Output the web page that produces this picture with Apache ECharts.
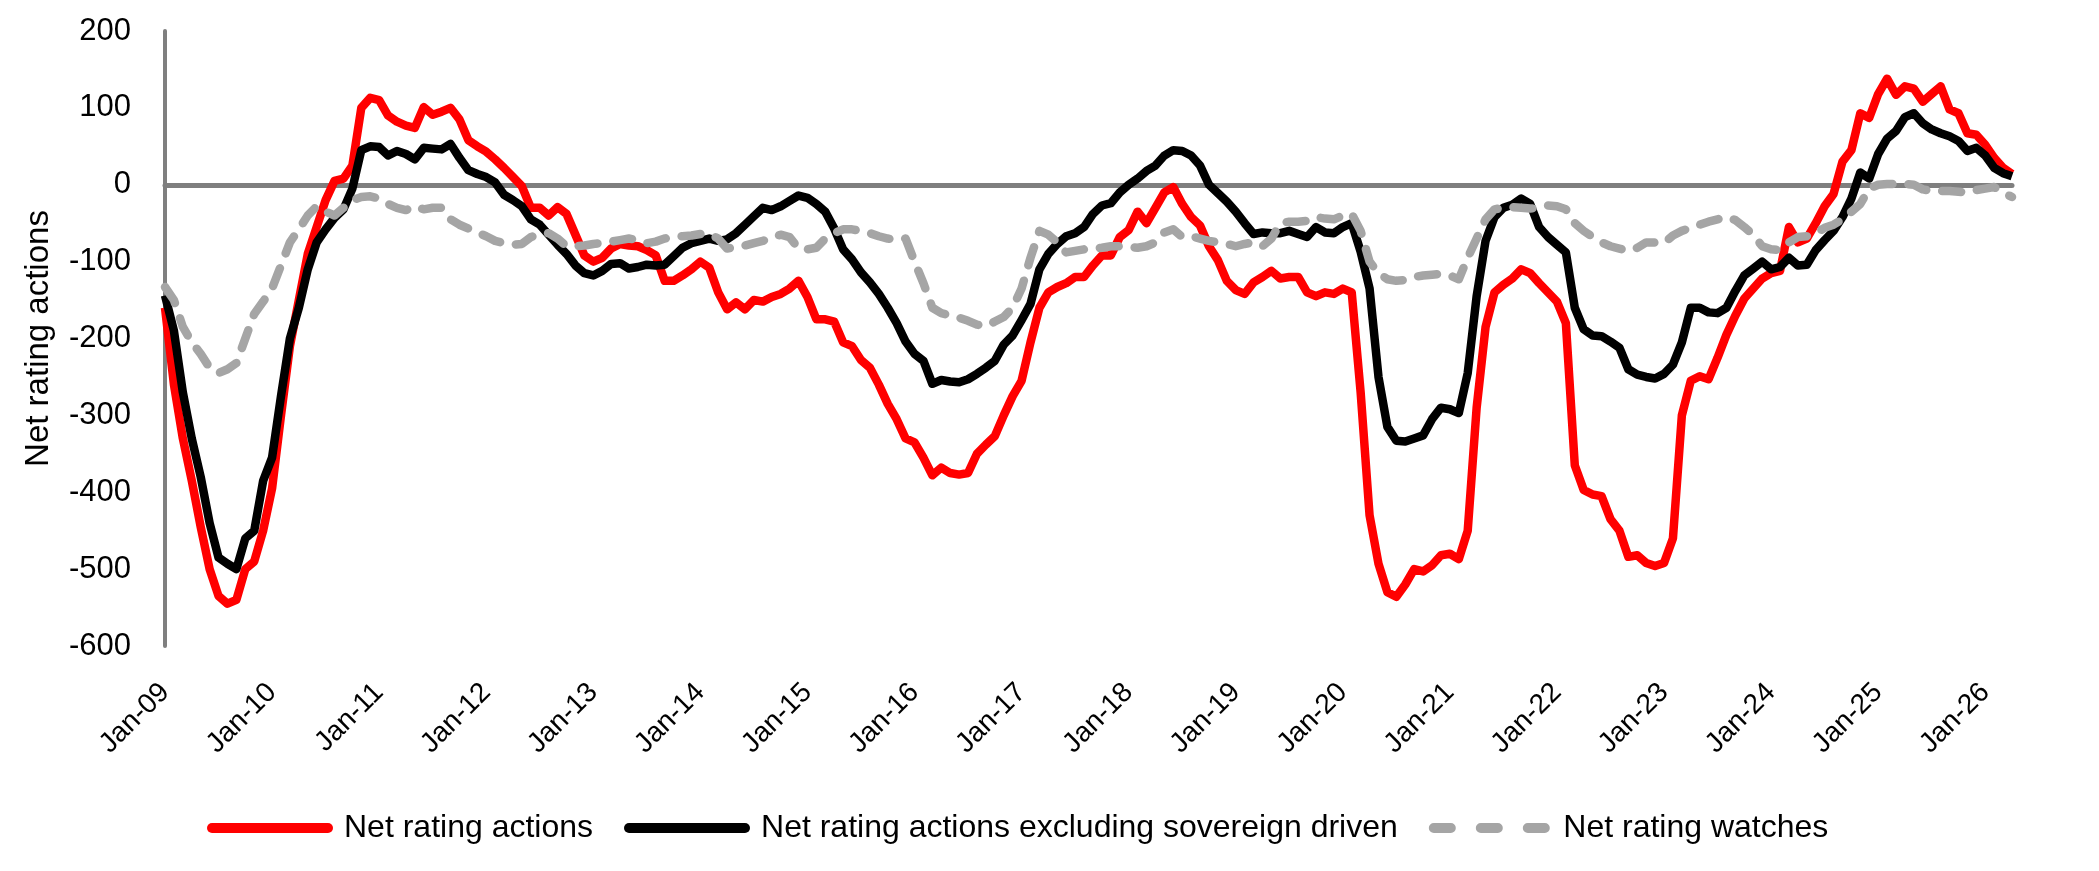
<!DOCTYPE html>
<html>
<head>
<meta charset="utf-8">
<script src="https://cdn.jsdelivr.net/npm/echarts@6/dist/echarts.min.js"></script>
<style>
  html, body { margin: 0; padding: 0; background: #fff; }
  #chart { width: 2099px; height: 871px; }
</style>
</head>
<body>
<div id="chart"></div>
<script>
// monthly series, Jan-09 .. Apr-26
var monthNames = ['Jan', 'Feb', 'Mar', 'Apr', 'May', 'Jun', 'Jul', 'Aug', 'Sep', 'Oct', 'Nov', 'Dec'];
var firstYear = 2009;
var yTicks = { min: -600, max: 200, step: 100 };

var netActions = [
  -160, -260, -330, -385, -445, -500, -535, -545, -540, -500, -490, -450,
  -395, -300, -210, -150, -90, -55, -20, 5, 8, 25, 100, 113,
  110, 90, 82, 77, 74, 101, 91, 95, 100, 85, 58, 50,
  43, 33, 22, 10, -2, -30, -30, -40, -29, -38, -65, -92,
  -100, -95, -83, -77, -79, -80, -85, -92, -125, -125, -118, -110,
  -100, -108, -140, -162, -153, -162, -150, -152, -146, -142, -135, -125,
  -146, -175, -175, -178, -205, -210, -228, -238, -260, -285, -305, -330,
  -335, -355, -378, -368, -375, -377, -375, -350, -338, -327, -300, -275,
  -255, -205, -160, -140, -133, -128, -120, -120, -105, -92, -92, -68,
  -59, -35, -50, -30, -10, -3, -25, -42, -53, -80, -98, -125,
  -137, -142, -127, -120, -112, -122, -120, -120, -140, -145, -140, -142,
  -135, -140, -270, -430, -493, -530, -536, -520, -500, -503, -495, -482,
  -480, -487, -450, -290, -185, -140, -130, -122, -110, -115, -128, -140,
  -152, -180, -365, -397, -403, -405, -435, -450, -484, -482, -492, -496,
  -492, -460, -300, -255, -249, -253, -225, -195, -170, -148, -135, -122,
  -115, -112, -55, -75, -70, -50, -28, -12, 30, 45, 93, 87,
  118, 138, 117, 128, 125, 108, 118, 128, 98, 93, 67, 65,
  52, 35, 22, 14
];

var netExSovereign = [
  -144, -190, -270, -330, -380, -440, -485, -493, -500, -460, -450, -385,
  -355, -275, -200, -160, -110, -75, -58, -43, -32, -5, 45, 50,
  49, 38, 44, 40, 33, 48, 47, 46, 53, 35, 19, 14,
  10, 3, -13, -20, -28, -45, -52, -65, -78, -90, -105, -115,
  -118, -112, -103, -102, -109, -107, -104, -105, -104, -93, -82, -76,
  -73, -70, -73, -71, -63, -52, -41, -30, -33, -28, -21, -14,
  -17, -25, -35, -57, -84, -97, -114, -127, -142, -160, -180, -204,
  -220, -229, -259, -254, -256, -257, -253, -246, -238, -229, -208, -196,
  -176, -155, -110, -90, -77, -67, -63, -55, -38, -27, -24, -10,
  0, 8, 18, 25, 38, 45, 44, 38, 25, 0, -11, -22,
  -35, -50, -64, -62, -63, -63, -60, -64, -68, -55, -62, -63,
  -55, -50, -87, -135, -250, -315, -333, -334, -330, -326, -305, -290,
  -292, -297, -245, -145, -73, -42, -30, -26, -18, -25, -55, -68,
  -78, -88, -160, -188, -196, -197, -204, -212, -240, -247, -250, -252,
  -246, -234, -205, -160, -160, -166, -167, -160, -138, -118, -109, -100,
  -110, -107, -95, -105, -104, -85, -72, -60, -42, -18, 16, 8,
  40, 60, 70, 88, 93, 80, 72, 67, 63, 57, 44, 48,
  38, 22, 15, 11
];

var netWatches = [
  -133, -150, -185, -205, -220, -238, -245, -240, -232, -200, -168, -152,
  -135, -105, -75, -58, -40, -28, -35, -40, -30, -20, -16, -15,
  -18, -25, -30, -33, -28, -32, -30, -30, -45, -52, -57, -62,
  -67, -73, -76, -78, -77, -68, -65, -63, -70, -80, -80, -79,
  -77, -76, -74, -72, -70, -72, -76, -74, -70, -68, -67, -66,
  -64, -64, -70, -83, -81, -79, -76, -73, -69, -65, -68, -83,
  -84, -82, -70, -63, -58, -58, -60, -63, -67, -70, -72, -70,
  -100, -128, -160, -167, -170, -173, -177, -182, -184, -178, -172, -160,
  -135, -95, -60, -65, -75, -88, -86, -84, -83, -82, -80, -80,
  -81, -82, -80, -75, -62, -58, -68, -67, -70, -73, -75, -77,
  -80, -77, -75, -80, -70, -50, -48, -48, -47, -42, -44, -45,
  -40, -38, -60, -100, -115, -123, -125, -124, -120, -118, -117, -116,
  -118, -123, -95, -70, -45, -32, -30, -29, -30, -31, -30, -27,
  -28, -32, -50, -60, -68, -75, -80, -83, -86, -82, -75, -75,
  -76, -66, -60, -56, -52, -48, -45, -42, -46, -55, -65, -80,
  -84, -85, -75, -68, -67, -63, -56, -52, -45, -35, -25, -5,
  0, 1, 1, 1, 0, -6, -8, -8, -8, -9, -10, -7,
  -5, -3, -10, -16
];

var seriesNames = ['Net rating actions', 'Net rating actions excluding sovereign driven', 'Net rating watches'];

var categories = [];
for (var i = 0; i < netActions.length; i++) {
  var yr = firstYear + Math.floor(i / 12);
  categories.push(monthNames[i % 12] + '-' + String(yr).slice(2));
}

// legend icons: a solid rounded bar, and three short rounded dashes
var barIcon = 'path://M5,0h116a5,5 0 0 1 0,10h-116a5,5 0 0 1 0,-10z';
var dashIcon = 'path://M5,0h17a5,5 0 0 1 0,10h-17a5,5 0 0 1 0,-10z' +
  'M52,0h17a5,5 0 0 1 0,10h-17a5,5 0 0 1 0,-10z' +
  'M99,0h17a5,5 0 0 1 0,10h-17a5,5 0 0 1 0,-10z';

var font = '"Liberation Sans", Arial, sans-serif';
var myChart = echarts.init(document.getElementById('chart'));
var option = {
  animation: false,
  grid: { left: 165, right: 87, top: 31, bottom: 225 },
  legend: {
    left: 202,
    top: 807,
    itemWidth: 126,
    itemHeight: 10,
    itemGap: 31,
    textStyle: { fontFamily: font, fontSize: 32, color: '#000', padding: [0, 0, 0, 6] },
    data: [
      { name: seriesNames[0], icon: barIcon },
      { name: seriesNames[1], icon: barIcon },
      { name: seriesNames[2], icon: dashIcon }
    ]
  },
  xAxis: [
    {
      type: 'category',
      data: categories,
      boundaryGap: false,
      axisLine: { show: false, onZero: false },
      axisTick: { show: false },
      axisLabel: {
        interval: 11,
        rotate: 45,
        margin: 42,
        fontFamily: font,
        fontSize: 28,
        color: '#000'
      }
    },
    {
      // grey line on zero
      type: 'category',
      data: categories,
      boundaryGap: false,
      position: 'bottom',
      axisLine: { show: true, onZero: true, lineStyle: { color: '#7f7f7f', width: 5 } },
      axisTick: { show: false },
      axisLabel: { show: false }
    }
  ],
  yAxis: {
    type: 'value',
    min: yTicks.min,
    max: yTicks.max,
    interval: yTicks.step,
    name: 'Net rating actions',
    nameLocation: 'middle',
    nameGap: 110,
    nameTextStyle: { fontFamily: font, fontSize: 33, color: '#000' },
    axisLine: { show: true, lineStyle: { color: '#7f7f7f', width: 4 } },
    axisTick: { show: false },
    splitLine: { show: false },
    axisLabel: { margin: 34, fontFamily: font, fontSize: 31, color: '#000' }
  },
  series: [
    {
      name: seriesNames[0],
      type: 'line',
      data: netActions,
      symbol: 'none',
      lineStyle: { color: '#ff0000', width: 8.5, join: 'round' },
      itemStyle: { color: '#ff0000' }
    },
    {
      name: seriesNames[1],
      type: 'line',
      data: netExSovereign,
      symbol: 'none',
      lineStyle: { color: '#000000', width: 8.5, join: 'round' },
      itemStyle: { color: '#000000' }
    },
    {
      name: seriesNames[2],
      type: 'line',
      data: netWatches,
      symbol: 'none',
      lineStyle: { color: '#a5a5a5', width: 8.5, type: [19, 16], cap: 'round', join: 'round' },
      itemStyle: { color: '#a5a5a5' }
    }
  ]
};
myChart.setOption(option);
window.addEventListener('resize', function () {
  myChart.resize();
});
</script>
</body>
</html>
